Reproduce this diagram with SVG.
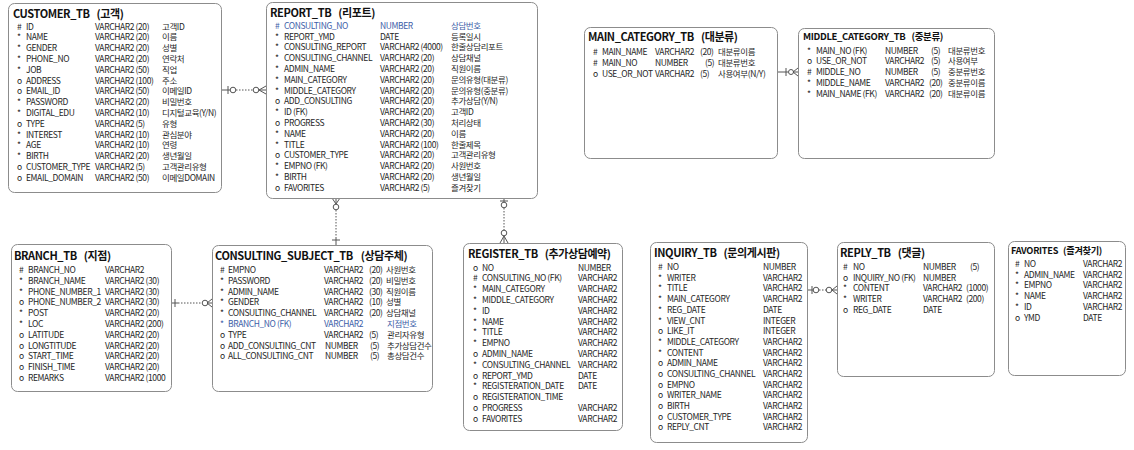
<svg xmlns="http://www.w3.org/2000/svg" width="1134" height="450" viewBox="0 0 1134 450">
<style>
.box{fill:#fff;stroke:#8c8c8c;stroke-width:1}
text{font-family:"Noto Sans CJK KR","Noto Sans",sans-serif;font-size:8.5px;letter-spacing:-0.4px;fill:#262626}
.h{font-weight:bold;font-size:11px;letter-spacing:-0.4px;fill:#111}
.hs{font-weight:bold;font-size:9.5px;letter-spacing:-0.35px;fill:#111}
.hx{font-weight:bold;font-size:9.2px;letter-spacing:-0.3px;fill:#111}
.bl{fill:#3d5ea8}
.c line,.c polyline{stroke:#555;stroke-width:1;fill:none}
.c .d{stroke-dasharray:1.5 1.5}
.c circle{fill:#fff;stroke:#555;stroke-width:1}
</style>
<rect width="1134" height="450" fill="#fff"/>

<g class="c" id="connectors">
  <!-- CUSTOMER - REPORT -->
  <line x1="222" y1="90" x2="230" y2="90"/>
  <line x1="228" y1="86" x2="228" y2="94"/>
  <circle cx="233" cy="90" r="2.8"/>
  <line class="d" x1="236" y1="90" x2="253" y2="90"/>
  <circle cx="256" cy="90" r="2.8"/>
  <polyline points="266,86 259,90 266,94"/>
  <line x1="259" y1="90" x2="266" y2="90"/>
  <!-- MAIN - MIDDLE -->
  <line x1="778" y1="72" x2="788" y2="72"/>
  <line x1="786" y1="68" x2="786" y2="76"/>
  <circle cx="791" cy="72" r="2.5"/>
  <polyline points="798,68 793,72 798,76"/>
  <line x1="793" y1="72" x2="798" y2="72"/>
  <!-- BRANCH - CONSULTING -->
  <line x1="172" y1="303" x2="178" y2="303"/>
  <line x1="175" y1="299" x2="175" y2="307"/>
  <line class="d" x1="178" y1="303" x2="202" y2="303"/>
  <circle cx="205" cy="303" r="2.8"/>
  <polyline points="212,299 207,303 212,307"/>
  <line x1="207" y1="303" x2="212" y2="303"/>
  <!-- REPORT - CONSULTING -->
  <polyline points="332,198 336,204 340,198"/>
  <line x1="336" y1="198" x2="336" y2="204"/>
  <circle cx="336" cy="207" r="2.8"/>
  <line class="d" x1="336" y1="210" x2="336" y2="238"/>
  <line x1="336" y1="238" x2="336" y2="245"/>
  <line x1="332" y1="240" x2="340" y2="240"/>
  <!-- REPORT - REGISTER -->
  <line x1="504" y1="198" x2="504" y2="202"/>
  <line x1="500" y1="201" x2="508" y2="201"/>
  <circle cx="504" cy="205" r="2.8"/>
  <line class="d" x1="504" y1="208" x2="504" y2="230"/>
  <circle cx="504" cy="233" r="2.8"/>
  <polyline points="500,243 504,236 508,243"/>
  <line x1="504" y1="236" x2="504" y2="243"/>
  <!-- INQUIRY - REPLY -->
  <line x1="808" y1="290" x2="813" y2="290"/>
  <line x1="812" y1="286" x2="812" y2="294"/>
  <circle cx="816" cy="290" r="2.8"/>
  <line class="d" x1="819" y1="290" x2="826" y2="290"/>
  <circle cx="829" cy="290" r="2.8"/>
  <polyline points="837,286 832,290 837,294"/>
  <line x1="832" y1="290" x2="837" y2="290"/>
</g>

<g id="customer_tb">
  <rect class="box" x="8.5" y="3.5" width="213" height="189" rx="6"/>
  <text class="h" x="13" y="18">CUSTOMER_TB<tspan dx="7">(고객)</tspan></text>
  <text x="17" y="29.5"><tspan x="17">#</tspan><tspan x="17" dy="10.8">*</tspan><tspan x="17" dy="10.8">*</tspan><tspan x="17" dy="10.8">*</tspan><tspan x="17" dy="10.8">*</tspan><tspan x="17" dy="10.8">o</tspan><tspan x="17" dy="10.8">o</tspan><tspan x="17" dy="10.8">*</tspan><tspan x="17" dy="10.8">*</tspan><tspan x="17" dy="10.8">o</tspan><tspan x="17" dy="10.8">*</tspan><tspan x="17" dy="10.8">*</tspan><tspan x="17" dy="10.8">*</tspan><tspan x="17" dy="10.8">o</tspan><tspan x="17" dy="10.8">o</tspan></text>
  <text x="26" y="29.5"><tspan x="26">ID</tspan><tspan x="26" dy="10.8">NAME</tspan><tspan x="26" dy="10.8">GENDER</tspan><tspan x="26" dy="10.8">PHONE_NO</tspan><tspan x="26" dy="10.8">JOB</tspan><tspan x="26" dy="10.8">ADDRESS</tspan><tspan x="26" dy="10.8">EMAIL_ID</tspan><tspan x="26" dy="10.8">PASSWORD</tspan><tspan x="26" dy="10.8">DIGITAL_EDU</tspan><tspan x="26" dy="10.8">TYPE</tspan><tspan x="26" dy="10.8">INTEREST</tspan><tspan x="26" dy="10.8">AGE</tspan><tspan x="26" dy="10.8">BIRTH</tspan><tspan x="26" dy="10.8">CUSTOMER_TYPE</tspan><tspan x="26" dy="10.8">EMAIL_DOMAIN</tspan></text>
  <text x="95" y="29.5"><tspan x="95">VARCHAR2 (20)</tspan><tspan x="95" dy="10.8">VARCHAR2 (20)</tspan><tspan x="95" dy="10.8">VARCHAR2 (20)</tspan><tspan x="95" dy="10.8">VARCHAR2 (20)</tspan><tspan x="95" dy="10.8">VARCHAR2 (50)</tspan><tspan x="95" dy="10.8">VARCHAR2 (100)</tspan><tspan x="95" dy="10.8">VARCHAR2 (50)</tspan><tspan x="95" dy="10.8">VARCHAR2 (20)</tspan><tspan x="95" dy="10.8">VARCHAR2 (10)</tspan><tspan x="95" dy="10.8">VARCHAR2 (5)</tspan><tspan x="95" dy="10.8">VARCHAR2 (10)</tspan><tspan x="95" dy="10.8">VARCHAR2 (10)</tspan><tspan x="95" dy="10.8">VARCHAR2 (20)</tspan><tspan x="95" dy="10.8">VARCHAR2 (5)</tspan><tspan x="95" dy="10.8">VARCHAR2 (50)</tspan></text>
  <text x="162" y="29.5"><tspan x="162">고객ID</tspan><tspan x="162" dy="10.8">이름</tspan><tspan x="162" dy="10.8">성별</tspan><tspan x="162" dy="10.8">연락처</tspan><tspan x="162" dy="10.8">직업</tspan><tspan x="162" dy="10.8">주소</tspan><tspan x="162" dy="10.8">이메일ID</tspan><tspan x="162" dy="10.8">비밀번호</tspan><tspan x="162" dy="10.8">디지털교육(Y/N)</tspan><tspan x="162" dy="10.8">유형</tspan><tspan x="162" dy="10.8">관심분야</tspan><tspan x="162" dy="10.8">연령</tspan><tspan x="162" dy="10.8">생년월일</tspan><tspan x="162" dy="10.8">고객관리유형</tspan><tspan x="162" dy="10.8">이메일DOMAIN</tspan></text>
</g>

<g id="report_tb">
  <rect class="box" x="266.5" y="2.5" width="271" height="196" rx="6"/>
  <text class="h" x="270" y="16.5">REPORT_TB<tspan dx="7">(리포트)</tspan></text>
  <text x="275" y="28.7"><tspan x="275" class="bl">#</tspan><tspan x="275" dy="10.8">*</tspan><tspan x="275" dy="10.8">*</tspan><tspan x="275" dy="10.8">*</tspan><tspan x="275" dy="10.8">*</tspan><tspan x="275" dy="10.8">*</tspan><tspan x="275" dy="10.8">*</tspan><tspan x="275" dy="10.8">o</tspan><tspan x="275" dy="10.8">*</tspan><tspan x="275" dy="10.8">o</tspan><tspan x="275" dy="10.8">*</tspan><tspan x="275" dy="10.8">*</tspan><tspan x="275" dy="10.8">o</tspan><tspan x="275" dy="10.8">*</tspan><tspan x="275" dy="10.8">*</tspan><tspan x="275" dy="10.8">o</tspan></text>
  <text x="284" y="28.7"><tspan x="284" class="bl">CONSULTING_NO</tspan><tspan x="284" dy="10.8">REPORT_YMD</tspan><tspan x="284" dy="10.8">CONSULTING_REPORT</tspan><tspan x="284" dy="10.8">CONSULTING_CHANNEL</tspan><tspan x="284" dy="10.8">ADMIN_NAME</tspan><tspan x="284" dy="10.8">MAIN_CATEGORY</tspan><tspan x="284" dy="10.8">MIDDLE_CATEGORY</tspan><tspan x="284" dy="10.8">ADD_CONSULTING</tspan><tspan x="284" dy="10.8">ID (FK)</tspan><tspan x="284" dy="10.8">PROGRESS</tspan><tspan x="284" dy="10.8">NAME</tspan><tspan x="284" dy="10.8">TITLE</tspan><tspan x="284" dy="10.8">CUSTOMER_TYPE</tspan><tspan x="284" dy="10.8">EMPNO (FK)</tspan><tspan x="284" dy="10.8">BIRTH</tspan><tspan x="284" dy="10.8">FAVORITES</tspan></text>
  <text x="380" y="28.7"><tspan x="380" class="bl">NUMBER</tspan><tspan x="380" dy="10.8">DATE</tspan><tspan x="380" dy="10.8">VARCHAR2 (4000)</tspan><tspan x="380" dy="10.8">VARCHAR2 (20)</tspan><tspan x="380" dy="10.8">VARCHAR2 (20)</tspan><tspan x="380" dy="10.8">VARCHAR2 (20)</tspan><tspan x="380" dy="10.8">VARCHAR2 (20)</tspan><tspan x="380" dy="10.8">VARCHAR2 (20)</tspan><tspan x="380" dy="10.8">VARCHAR2 (20)</tspan><tspan x="380" dy="10.8">VARCHAR2 (30)</tspan><tspan x="380" dy="10.8">VARCHAR2 (20)</tspan><tspan x="380" dy="10.8">VARCHAR2 (100)</tspan><tspan x="380" dy="10.8">VARCHAR2 (20)</tspan><tspan x="380" dy="10.8">VARCHAR2 (20)</tspan><tspan x="380" dy="10.8">VARCHAR2 (20)</tspan><tspan x="380" dy="10.8">VARCHAR2 (5)</tspan></text>
  <text x="451" y="28.7"><tspan x="451" class="bl">상담번호</tspan><tspan x="451" dy="10.8">등록일시</tspan><tspan x="451" dy="10.8">한줄상담리포트</tspan><tspan x="451" dy="10.8">상담채널</tspan><tspan x="451" dy="10.8">직원이름</tspan><tspan x="451" dy="10.8">문의유형(대분류)</tspan><tspan x="451" dy="10.8">문의유형(중분류)</tspan><tspan x="451" dy="10.8">추가상담(Y/N)</tspan><tspan x="451" dy="10.8">고객ID</tspan><tspan x="451" dy="10.8">처리상태</tspan><tspan x="451" dy="10.8">이름</tspan><tspan x="451" dy="10.8">한줄제목</tspan><tspan x="451" dy="10.8">고객관리유형</tspan><tspan x="451" dy="10.8">사원번호</tspan><tspan x="451" dy="10.8">생년월일</tspan><tspan x="451" dy="10.8">즐겨찾기</tspan></text>
</g>

<g id="main_category_tb">
  <rect class="box" x="584.5" y="27.5" width="193" height="131" rx="6"/>
  <text class="h" x="588" y="41">MAIN_CATEGORY_TB<tspan dx="7">(대분류)</tspan></text>
  <text x="593" y="55"><tspan x="593">#</tspan><tspan x="593" dy="10.8">#</tspan><tspan x="593" dy="10.8">o</tspan></text>
  <text x="602" y="55"><tspan x="602">MAIN_NAME</tspan><tspan x="602" dy="10.8">MAIN_NO</tspan><tspan x="602" dy="10.8">USE_OR_NOT</tspan></text>
  <text x="655" y="55"><tspan x="655">VARCHAR2</tspan><tspan x="655" dy="10.8">NUMBER</tspan><tspan x="655" dy="10.8">VARCHAR2</tspan></text>
  <text x="700" y="55"><tspan x="700">(20)</tspan><tspan x="705" dy="10.8">(5)</tspan><tspan x="700" dy="10.8">(5)</tspan></text>
  <text x="718" y="55"><tspan x="718">대분류이름</tspan><tspan x="718" dy="10.8">대분류번호</tspan><tspan x="718" dy="10.8">사용여부(N/Y)</tspan></text>
</g>

<g id="middle_category_tb">
  <rect class="box" x="798.5" y="28.5" width="196" height="130" rx="6"/>
  <text class="hs" x="803" y="40">MIDDLE_CATEGORY_TB<tspan dx="6">(중분류)</tspan></text>
  <text x="807" y="53.7"><tspan x="807">*</tspan><tspan x="807" dy="10.7">o</tspan><tspan x="807" dy="10.7">#</tspan><tspan x="807" dy="10.7">*</tspan><tspan x="807" dy="10.7">*</tspan></text>
  <text x="816" y="53.7"><tspan x="816">MAIN_NO (FK)</tspan><tspan x="816" dy="10.7">USE_OR_NOT</tspan><tspan x="816" dy="10.7">MIDDLE_NO</tspan><tspan x="816" dy="10.7">MIDDLE_NAME</tspan><tspan x="816" dy="10.7">MAIN_NAME (FK)</tspan></text>
  <text x="885" y="53.7"><tspan x="885">NUMBER</tspan><tspan x="885" dy="10.7">VARCHAR2</tspan><tspan x="885" dy="10.7">NUMBER</tspan><tspan x="885" dy="10.7">VARCHAR2</tspan><tspan x="885" dy="10.7">VARCHAR2</tspan></text>
  <text x="931" y="53.7"><tspan x="931">(5)</tspan><tspan x="931" dy="10.7">(5)</tspan><tspan x="931" dy="10.7">(5)</tspan><tspan x="929" dy="10.7">(20)</tspan><tspan x="929" dy="10.7">(20)</tspan></text>
  <text x="948" y="53.7"><tspan x="948">대분류번호</tspan><tspan x="948" dy="10.7">사용여부</tspan><tspan x="948" dy="10.7">중분류번호</tspan><tspan x="948" dy="10.7">중분류이름</tspan><tspan x="948" dy="10.7">대분류이름</tspan></text>
</g>

<g id="branch_tb">
  <rect class="box" x="11.5" y="244.5" width="160" height="147" rx="6"/>
  <text class="h" x="14" y="260">BRANCH_TB<tspan dx="7">(지점)</tspan></text>
  <text x="19" y="273"><tspan x="19">#</tspan><tspan x="19" dy="10.8">*</tspan><tspan x="19" dy="10.8">*</tspan><tspan x="19" dy="10.8">o</tspan><tspan x="19" dy="10.8">*</tspan><tspan x="19" dy="10.8">*</tspan><tspan x="19" dy="10.8">o</tspan><tspan x="19" dy="10.8">o</tspan><tspan x="19" dy="10.8">o</tspan><tspan x="19" dy="10.8">o</tspan><tspan x="19" dy="10.8">o</tspan></text>
  <text x="28" y="273"><tspan x="28">BRANCH_NO</tspan><tspan x="28" dy="10.8">BRANCH_NAME</tspan><tspan x="28" dy="10.8">PHONE_NUMBER_1</tspan><tspan x="28" dy="10.8">PHONE_NUMBER_2</tspan><tspan x="28" dy="10.8">POST</tspan><tspan x="28" dy="10.8">LOC</tspan><tspan x="28" dy="10.8">LATITUDE</tspan><tspan x="28" dy="10.8">LONGTITUDE</tspan><tspan x="28" dy="10.8">START_TIME</tspan><tspan x="28" dy="10.8">FINISH_TIME</tspan><tspan x="28" dy="10.8">REMARKS</tspan></text>
  <text x="105" y="273"><tspan x="105">VARCHAR2</tspan><tspan x="105" dy="10.8">VARCHAR2 (30)</tspan><tspan x="105" dy="10.8">VARCHAR2 (30)</tspan><tspan x="105" dy="10.8">VARCHAR2 (30)</tspan><tspan x="105" dy="10.8">VARCHAR2 (20)</tspan><tspan x="105" dy="10.8">VARCHAR2 (200)</tspan><tspan x="105" dy="10.8">VARCHAR2 (20)</tspan><tspan x="105" dy="10.8">VARCHAR2 (20)</tspan><tspan x="105" dy="10.8">VARCHAR2 (20)</tspan><tspan x="105" dy="10.8">VARCHAR2 (20)</tspan><tspan x="105" dy="10.8">VARCHAR2 (1000</tspan></text>
</g>

<g id="consulting_subject_tb">
  <rect class="box" x="212.5" y="245.5" width="220" height="146" rx="6"/>
  <text class="h" x="215" y="260">CONSULTING_SUBJECT_TB<tspan dx="8">(상담주체)</tspan></text>
  <text x="220" y="273"><tspan x="220">#</tspan><tspan x="220" dy="10.8">*</tspan><tspan x="220" dy="10.8">*</tspan><tspan x="220" dy="10.8">*</tspan><tspan x="220" dy="10.8">*</tspan><tspan x="220" dy="10.8" class="bl">*</tspan><tspan x="220" dy="10.8">o</tspan><tspan x="220" dy="10.8">o</tspan><tspan x="220" dy="10.8">o</tspan></text>
  <text x="228" y="273"><tspan x="228">EMPNO</tspan><tspan x="228" dy="10.8">PASSWORD</tspan><tspan x="228" dy="10.8">ADMIN_NAME</tspan><tspan x="228" dy="10.8">GENDER</tspan><tspan x="228" dy="10.8">CONSULTING_CHANNEL</tspan><tspan x="228" dy="10.8" class="bl">BRANCH_NO (FK)</tspan><tspan x="228" dy="10.8">TYPE</tspan><tspan x="228" dy="10.8">ADD_CONSULTING_CNT</tspan><tspan x="228" dy="10.8">ALL_CONSULTING_CNT</tspan></text>
  <text x="324" y="273"><tspan x="324">VARCHAR2</tspan><tspan x="324" dy="10.8">VARCHAR2</tspan><tspan x="324" dy="10.8">VARCHAR2</tspan><tspan x="324" dy="10.8">VARCHAR2</tspan><tspan x="324" dy="10.8">VARCHAR2</tspan><tspan x="324" dy="10.8" class="bl">VARCHAR2</tspan><tspan x="324" dy="10.8">VARCHAR2</tspan><tspan x="325" dy="10.8">NUMBER</tspan><tspan x="325" dy="10.8">NUMBER</tspan></text>
  <text x="369" y="273"><tspan x="369">(20)</tspan><tspan x="369" dy="10.8">(20)</tspan><tspan x="369" dy="10.8">(30)</tspan><tspan x="369" dy="10.8">(10)</tspan><tspan x="369" dy="10.8">(20)</tspan><tspan x="369" dy="21.6">(5)</tspan><tspan x="370" dy="10.8">(5)</tspan><tspan x="370" dy="10.8">(5)</tspan></text>
  <text x="386" y="273"><tspan x="386">사원번호</tspan><tspan x="386" dy="10.8">비밀번호</tspan><tspan x="386" dy="10.8">직원이름</tspan><tspan x="386" dy="10.8">성별</tspan><tspan x="386" dy="10.8">상담채널</tspan><tspan x="387" dy="10.8" class="bl">지점번호</tspan><tspan x="387" dy="10.8">관리자유형</tspan><tspan x="387" dy="10.8">추가상담건수</tspan><tspan x="387" dy="10.8">총상담건수</tspan></text>
</g>

<g id="register_tb">
  <rect class="box" x="463.5" y="243.5" width="159" height="187" rx="6"/>
  <text class="h" x="468" y="257.5">REGISTER_TB<tspan dx="7">(추가상담예약)</tspan></text>
  <text x="473" y="270.5"><tspan x="473">o</tspan><tspan x="473" dy="10.8">#</tspan><tspan x="473" dy="10.8">*</tspan><tspan x="473" dy="10.8">*</tspan><tspan x="473" dy="10.8">*</tspan><tspan x="473" dy="10.8">*</tspan><tspan x="473" dy="10.8">*</tspan><tspan x="473" dy="10.8">*</tspan><tspan x="473" dy="10.8">o</tspan><tspan x="473" dy="10.8">*</tspan><tspan x="473" dy="10.8">o</tspan><tspan x="473" dy="10.8">*</tspan><tspan x="473" dy="10.8">o</tspan><tspan x="473" dy="10.8">o</tspan><tspan x="473" dy="10.8">o</tspan></text>
  <text x="482" y="270.5"><tspan x="482">NO</tspan><tspan x="482" dy="10.8">CONSULTING_NO (FK)</tspan><tspan x="482" dy="10.8">MAIN_CATEGORY</tspan><tspan x="482" dy="10.8">MIDDLE_CATEGORY</tspan><tspan x="482" dy="10.8">ID</tspan><tspan x="482" dy="10.8">NAME</tspan><tspan x="482" dy="10.8">TITLE</tspan><tspan x="482" dy="10.8">EMPNO</tspan><tspan x="482" dy="10.8">ADMIN_NAME</tspan><tspan x="482" dy="10.8">CONSULTING_CHANNEL</tspan><tspan x="482" dy="10.8">REPORT_YMD</tspan><tspan x="482" dy="10.8">REGISTERATION_DATE</tspan><tspan x="482" dy="10.8">REGISTERATION_TIME</tspan><tspan x="482" dy="10.8">PROGRESS</tspan><tspan x="482" dy="10.8">FAVORITES</tspan></text>
  <text x="578" y="270.5"><tspan x="578">NUMBER</tspan><tspan x="578" dy="10.8">VARCHAR2</tspan><tspan x="578" dy="10.8">VARCHAR2</tspan><tspan x="578" dy="10.8">VARCHAR2</tspan><tspan x="578" dy="10.8">VARCHAR2</tspan><tspan x="578" dy="10.8">VARCHAR2</tspan><tspan x="578" dy="10.8">VARCHAR2</tspan><tspan x="578" dy="10.8">VARCHAR2</tspan><tspan x="578" dy="10.8">VARCHAR2</tspan><tspan x="578" dy="10.8">VARCHAR2</tspan><tspan x="578" dy="10.8">DATE</tspan><tspan x="578" dy="10.8">DATE</tspan><tspan x="578" dy="21.6">VARCHAR2</tspan><tspan x="578" dy="10.8">VARCHAR2</tspan></text>
</g>

<g id="inquiry_tb">
  <rect class="box" x="650.5" y="242.5" width="157" height="200" rx="6"/>
  <text class="h" x="654" y="256.5">INQUIRY_TB<tspan dx="7">(문의게시판)</tspan></text>
  <text x="658" y="270"><tspan x="658">#</tspan><tspan x="658" dy="10.7">*</tspan><tspan x="658" dy="10.7">*</tspan><tspan x="658" dy="10.7">*</tspan><tspan x="658" dy="10.7">*</tspan><tspan x="658" dy="10.7">*</tspan><tspan x="658" dy="10.7">o</tspan><tspan x="658" dy="10.7">*</tspan><tspan x="658" dy="10.7">*</tspan><tspan x="658" dy="10.7">o</tspan><tspan x="658" dy="10.7">o</tspan><tspan x="658" dy="10.7">o</tspan><tspan x="658" dy="10.7">o</tspan><tspan x="658" dy="10.7">o</tspan><tspan x="658" dy="10.7">o</tspan><tspan x="658" dy="10.7">o</tspan></text>
  <text x="667" y="270"><tspan x="667">NO</tspan><tspan x="667" dy="10.7">WRITER</tspan><tspan x="667" dy="10.7">TITLE</tspan><tspan x="667" dy="10.7">MAIN_CATEGORY</tspan><tspan x="667" dy="10.7">REG_DATE</tspan><tspan x="667" dy="10.7">VIEW_CNT</tspan><tspan x="667" dy="10.7">LIKE_IT</tspan><tspan x="667" dy="10.7">MIDDLE_CATEGORY</tspan><tspan x="667" dy="10.7">CONTENT</tspan><tspan x="667" dy="10.7">ADMIN_NAME</tspan><tspan x="667" dy="10.7">CONSULTING_CHANNEL</tspan><tspan x="667" dy="10.7">EMPNO</tspan><tspan x="667" dy="10.7">WRITER_NAME</tspan><tspan x="667" dy="10.7">BIRTH</tspan><tspan x="667" dy="10.7">CUSTOMER_TYPE</tspan><tspan x="667" dy="10.7">REPLY_CNT</tspan></text>
  <text x="763" y="270"><tspan x="763">NUMBER</tspan><tspan x="763" dy="10.7">VARCHAR2</tspan><tspan x="763" dy="10.7">VARCHAR2</tspan><tspan x="763" dy="10.7">VARCHAR2</tspan><tspan x="763" dy="10.7">DATE</tspan><tspan x="763" dy="10.7">INTEGER</tspan><tspan x="763" dy="10.7">INTEGER</tspan><tspan x="763" dy="10.7">VARCHAR2</tspan><tspan x="763" dy="10.7">VARCHAR2</tspan><tspan x="763" dy="10.7">VARCHAR2</tspan><tspan x="763" dy="10.7">VARCHAR2</tspan><tspan x="763" dy="10.7">VARCHAR2</tspan><tspan x="763" dy="10.7">VARCHAR2</tspan><tspan x="763" dy="10.7">VARCHAR2</tspan><tspan x="763" dy="10.7">VARCHAR2</tspan><tspan x="763" dy="10.7">VARCHAR2</tspan></text>
</g>

<g id="reply_tb">
  <rect class="box" x="837.5" y="242.5" width="157" height="134" rx="6"/>
  <text class="h" x="840" y="256.5">REPLY_TB<tspan dx="7">(댓글)</tspan></text>
  <text x="843" y="270"><tspan x="843">#</tspan><tspan x="843" dy="10.7">o</tspan><tspan x="843" dy="10.7">*</tspan><tspan x="843" dy="10.7">*</tspan><tspan x="843" dy="10.7">o</tspan></text>
  <text x="853" y="270"><tspan x="853">NO</tspan><tspan x="853" dy="10.7">INQUIRY_NO (FK)</tspan><tspan x="853" dy="10.7">CONTENT</tspan><tspan x="853" dy="10.7">WRITER</tspan><tspan x="853" dy="10.7">REG_DATE</tspan></text>
  <text x="923" y="270"><tspan x="923">NUMBER</tspan><tspan x="923" dy="10.7">NUMBER</tspan><tspan x="923" dy="10.7">VARCHAR2</tspan><tspan x="923" dy="10.7">VARCHAR2</tspan><tspan x="923" dy="10.7">DATE</tspan></text>
  <text x="966" y="270"><tspan x="970">(5)</tspan><tspan x="966" dy="21.4">(1000)</tspan><tspan x="966" dy="10.7">(200)</tspan></text>
</g>

<g id="favorites">
  <rect class="box" x="1008.5" y="241.5" width="117" height="134" rx="6"/>
  <text class="hx" x="1011" y="254">FAVORITES<tspan dx="5">(즐겨찾기)</tspan></text>
  <text x="1015" y="267"><tspan x="1015">#</tspan><tspan x="1015" dy="10.7">*</tspan><tspan x="1015" dy="10.7">*</tspan><tspan x="1015" dy="10.7">*</tspan><tspan x="1015" dy="10.7">*</tspan><tspan x="1015" dy="10.7">o</tspan></text>
  <text x="1024" y="267"><tspan x="1024">NO</tspan><tspan x="1024" dy="10.7">ADMIN_NAME</tspan><tspan x="1024" dy="10.7">EMPNO</tspan><tspan x="1024" dy="10.7">NAME</tspan><tspan x="1024" dy="10.7">ID</tspan><tspan x="1024" dy="10.7">YMD</tspan></text>
  <text x="1083" y="267"><tspan x="1083">VARCHAR2</tspan><tspan x="1083" dy="10.7">VARCHAR2</tspan><tspan x="1083" dy="10.7">VARCHAR2</tspan><tspan x="1083" dy="10.7">VARCHAR2</tspan><tspan x="1083" dy="10.7">VARCHAR2</tspan><tspan x="1083" dy="10.7">DATE</tspan></text>
</g>
</svg>
